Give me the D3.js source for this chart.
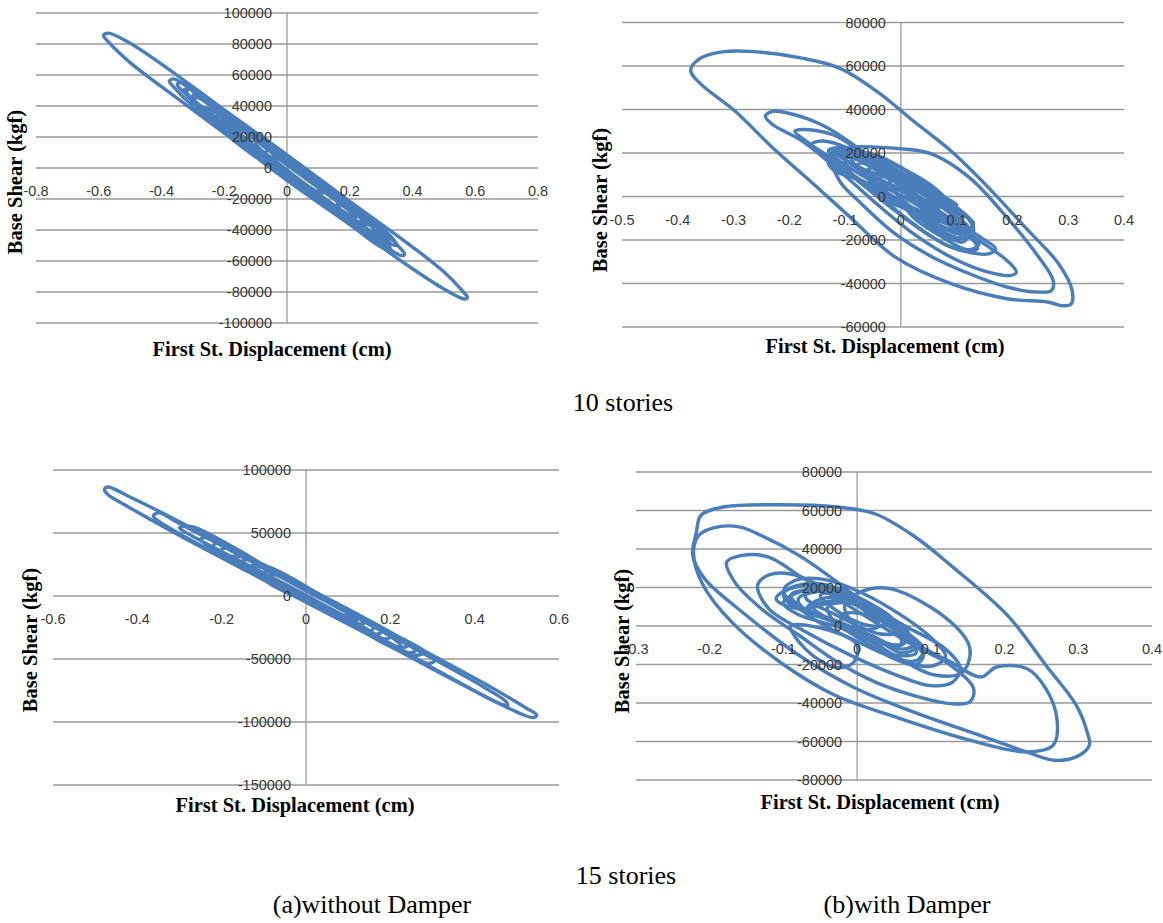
<!DOCTYPE html>
<html>
<head>
<meta charset="utf-8">
<script src="https://cdn.jsdelivr.net/npm/d3@7"></script>
<style>
  body { margin: 0; background: #fff; }
  .tick { font-family: 'Liberation Sans', Arial, sans-serif; font-size: 14.5px; fill: #383838; }
  .atitle { font-family: 'Liberation Serif', 'Times New Roman', serif; font-size: 20.5px; font-weight: bold; fill: #000; }
  .caption { font-family: 'Liberation Serif', 'Times New Roman', serif; font-size: 26px; fill: #000; }
  .grid { stroke: #9a9a9a; stroke-width: 1.3; }
  .loop { fill: none; stroke: #4a7ebb; stroke-width: 3.4; stroke-linejoin: round; }
</style>
</head>
<body>
<div id="chart"></div>
<script>
// ---- tick labels ----
var tenA_xTicks = [-0.8, -0.6, -0.4, -0.2, 0, 0.2, 0.4, 0.6, 0.8];
var tenA_yTicks = [100000, 80000, 60000, 40000, 20000, 0, -20000, -40000, -60000, -80000, -100000];
var tenB_xTicks = [-0.5, -0.4, -0.3, -0.2, -0.1, 0, 0.1, 0.2, 0.3, 0.4];
var tenB_yTicks = [80000, 60000, 40000, 20000, 0, -20000, -40000, -60000];
var fifA_xTicks = [-0.6, -0.4, -0.2, 0, 0.2, 0.4, 0.6];
var fifA_yTicks = [100000, 50000, 0, -50000, -100000, -150000];
var fifB_xTicks = [-0.3, -0.2, -0.1, 0, 0.1, 0.2, 0.3, 0.4];
var fifB_yTicks = [80000, 60000, 40000, 20000, 0, -20000, -40000, -60000, -80000];

// ---- 10 stories, without damper: loops [displacement cm, base shear kgf] ----
var tenA_loop1 = [[-0.585,85500],[-0.57,87000],[-0.5,80500],[-0.4,67000],[-0.2,37500],[0,8500],[0.2,-21500],[0.4,-51000],[0.5,-67000],[0.56,-79500],[0.575,-83500],[0.565,-84500],[0.5,-78000],[0.4,-65000],[0.2,-36500],[0,-8000],[-0.2,22500],[-0.4,52500],[-0.5,68000],[-0.57,81500]];
var tenA_loop2 = [[-0.375,56000],[-0.36,57500],[-0.3,49500],[-0.15,27500],[0,5500],[0.15,-16500],[0.3,-39500],[0.36,-51500],[0.375,-55500],[0.365,-56500],[0.3,-48500],[0.15,-27000],[0,-5000],[-0.15,17000],[-0.3,40000],[-0.36,52000]];
var tenA_loop3 = [[-0.305,42500],[-0.29,45500],[-0.15,25500],[0,4000],[0.15,-18000],[0.3,-41000],[0.32,-46500],[0.3,-46000],[0.15,-25000],[0,-3500],[-0.15,18500],[-0.28,38000]];
var tenA_loop4 = [[-0.25,38000],[-0.2,33000],[0,4500],[0.2,-25500],[0.26,-36500],[0.22,-34000],[0,-4000],[-0.2,25500]];
var tenA_loop5 = [[-0.2,31000],[-0.1,18500],[0.05,-3500],[0.2,-26500],[0.21,-30500],[0.1,-18000],[-0.05,4000],[-0.19,26000]];
var tenA_loop6 = [[-0.16,22000],[-0.14,25000],[0,3500],[0.17,-22000],[0.16,-26500],[0,-2500],[-0.15,18000]];
var tenA_loop7 = [[-0.1,16500],[-0.08,17000],[0.05,-2000],[0.12,-14000],[0.1,-17000],[-0.03,2000]];
var tenA_loop8 = [[-0.3,47000],[-0.27,46000],[-0.1,20500],[0.1,-9000],[0.28,-36000],[0.3,-42000],[0.27,-42000],[0.1,-19000],[-0.1,9500],[-0.28,40000]];
var tenA_loop9 = [[-0.22,35000],[-0.2,35500],[0,6000],[0.2,-23500],[0.24,-33500],[0.22,-34500],[0,-6000],[-0.2,24000]];
var tenA_loop10 = [[-0.12,22000],[-0.1,22500],[0.05,-1500],[0.15,-17000],[0.16,-24000],[0.14,-24000],[0,-4500],[-0.11,14000]];
var tenA_loop11 = [[-0.06,12000],[0,6000],[0.1,-9000],[0.1,-17000],[0,-5000],[-0.07,5000]];
var tenA_loop12 = [[-0.33,50000],[-0.3,51000],[-0.1,18000],[0.1,-12000],[0.3,-41000],[0.33,-49500],[0.3,-47000],[0.1,-17500],[-0.1,12500],[-0.31,45000]];
var tenA_loop13 = [[-0.26,37000],[-0.22,38500],[-0.05,10000],[0.12,-14000],[0.27,-37500],[0.28,-41000],[0.24,-39000],[0.05,-10500],[-0.12,15000],[-0.25,33000]];
var tenA_loop14 = [[-0.35,54000],[-0.33,55000],[-0.15,28500],[0,6500],[0.15,-15500],[0.33,-44000],[0.35,-50000],[0.33,-49000],[0.15,-24000],[0,-1500],[-0.15,21500],[-0.33,49000]];
var tenA_loop15 = [[-0.28,38000],[-0.25,38500],[-0.1,13500],[0.05,-9500],[0.2,-32000],[0.31,-48000],[0.33,-52000],[0.3,-51000],[0.15,-28000],[0,-6500],[-0.15,16000],[-0.27,34000]];
var tenA_loop16 = [[-0.2,27000],[-0.17,28500],[0,2000],[0.2,-28000],[0.22,-32000],[0.19,-31000],[0,-2500],[-0.19,24000]];
var tenA_loop17 = [[-0.32,50000],[-0.3,50500],[-0.2,34500],[-0.05,12000],[0.1,-10000],[0.12,-15000],[0.09,-14500],[-0.05,6500],[-0.2,28000],[-0.31,46000]];
var tenA_loop18 = [[-0.05,7000],[0.05,-4000],[0.2,-27000],[0.3,-43000],[0.32,-48000],[0.29,-46500],[0.2,-32000],[0.05,-10000],[-0.05,3000]];

// ---- 10 stories, with damper ----
var tenB_loop1 = [[-0.377,58000],[-0.36,63500],[-0.32,66500],[-0.27,66700],[-0.177,63600],[-0.11,59000],[-0.043,48300],[0.023,34600],[0.09,20900],[0.157,4100],[0.223,-14200],[0.283,-31000],[0.307,-43200],[0.305,-49500],[0.29,-50200],[0.263,-48500],[0.19,-47000],[0.09,-40100],[-0.01,-27900],[-0.097,-8100],[-0.163,7200],[-0.23,22400],[-0.297,39200],[-0.36,52000]];
var tenB_loop2 = [[-0.123,17800],[-0.11,21700],[0.01,21700],[0.057,19400],[0.123,8700],[0.19,-9600],[0.243,-26400],[0.273,-38600],[0.27,-43200],[0.243,-43900],[0.19,-41600],[0.123,-35500],[0.057,-27900],[-0.01,-17200],[-0.07,-3500],[-0.11,7200]];
var tenB_loop3 = [[-0.243,36900],[-0.23,39200],[-0.203,38400],[-0.143,33100],[-0.077,22400],[-0.01,8700],[0.057,-5000],[0.123,-17200],[0.19,-29400],[0.207,-34800],[0.197,-36300],[0.157,-34800],[0.09,-27900],[0.023,-17200],[-0.043,-3500],[-0.11,11700],[-0.177,25500],[-0.23,33100]];
var tenB_loop4 = [[-0.19,30000],[-0.177,30800],[-0.123,28500],[-0.057,17800],[0.01,4100],[0.077,-8100],[0.143,-18800],[0.17,-24100],[0.157,-26400],[0.09,-23300],[0.023,-12600],[-0.043,1100],[-0.11,14800],[-0.17,25500]];
var tenB_loop5 = [[-0.16,23900],[-0.143,25500],[-0.097,22400],[-0.043,13300],[0.023,-500],[0.083,-12700],[0.13,-20300],[0.137,-24100],[0.11,-24900],[0.057,-18800],[-0.01,-6600],[-0.077,7200],[-0.13,17800]];
var tenB_loop6 = [[-0.125,20000],[-0.09,21500],[-0.03,14000],[0.05,0],[0.11,-12000],[0.125,-17500],[0.1,-19000],[0.03,-9000],[-0.05,4000],[-0.11,14000]];
var tenB_loop7 = [[-0.1,17000],[-0.06,18500],[0,9000],[0.08,-6000],[0.12,-14000],[0.1,-16000],[0.04,-9000],[-0.04,3000],[-0.09,11000]];
var tenB_loop8 = [[-0.13,16000],[-0.1,19500],[-0.05,15000],[0.02,4000],[0.08,-6000],[0.1,-11000],[0.07,-11500],[0,-3000],[-0.07,7000],[-0.12,12000]];
var tenB_loop9 = [[-0.06,12000],[-0.02,13500],[0.04,4000],[0.1,-7000],[0.13,-12000],[0.12,-15000],[0.06,-10000],[0,-3000],[-0.05,5000]];
var tenB_loop10 = [[-0.11,21500],[-0.07,20000],[0,11000],[0.06,2000],[0.1,-4000],[0.08,-5000],[0.02,1000],[-0.05,9000],[-0.1,17000]];
var tenB_loop11 = [[0,0],[0.06,-8000],[0.12,-17000],[0.14,-22000],[0.12,-24500],[0.07,-18000],[0.02,-9000]];
var tenB_loop12 = [[-0.04,8000],[0,9500],[0.05,1000],[0.1,-10000],[0.09,-13000],[0.04,-7000],[-0.02,0]];
var tenB_loop13 = [[-0.12,18000],[-0.08,21000],[0,13000],[0.07,0],[0.12,-10000],[0.13,-16000],[0.1,-17000],[0.03,-7000],[-0.04,4000],[-0.1,11000]];
var tenB_loop14 = [[-0.08,14000],[-0.04,16000],[0.02,7000],[0.08,-4000],[0.11,-10000],[0.09,-12000],[0.03,-4000],[-0.03,5000]];
var tenB_loop15 = [[-0.13,21000],[-0.1,22500],[-0.04,17000],[0.03,6000],[0.09,-3000],[0.06,-5000],[-0.02,3000],[-0.09,13000]];
var tenB_loop16 = [[-0.02,10000],[0.03,8000],[0.09,-3000],[0.13,-13000],[0.12,-19000],[0.09,-18000],[0.04,-9000],[-0.01,2000]];
var tenB_loop17 = [[-0.05,5000],[0,4000],[0.06,-6000],[0.11,-15000],[0.1,-20000],[0.06,-15000],[0.01,-6000],[-0.04,0]];
var tenB_loop18 = [[-0.12,20000],[-0.08,17000],[-0.03,10000],[0.02,3000],[-0.01,7000],[-0.07,13000]];
var tenB_loop19 = [[-0.09,19000],[-0.05,19500],[0.01,12000],[0.06,4000],[0.1,-8000],[0.08,-10000],[0.03,-2000],[-0.03,7000],[-0.08,14000]];
var tenB_loop20 = [[-0.03,3000],[0.02,1000],[0.07,-9000],[0.12,-18000],[0.11,-21000],[0.06,-14000],[0.01,-5000],[-0.03,-1000]];

// ---- 15 stories, without damper ----
var fifA_loop1 = [[-0.478,84500],[-0.47,86500],[-0.42,79000],[-0.3,59000],[-0.15,32500],[0,6500],[0.15,-20000],[0.3,-47000],[0.45,-74500],[0.52,-88500],[0.547,-94500],[0.54,-96500],[0.51,-93500],[0.45,-84000],[0.3,-58000],[0.15,-31000],[0,-5000],[-0.15,21500],[-0.3,48000],[-0.42,70500],[-0.47,80500]];
var fifA_loop2 = [[-0.362,63500],[-0.35,66000],[-0.3,57500],[-0.15,31000],[0,5000],[0.15,-21500],[0.3,-49500],[0.42,-72000],[0.475,-84000],[0.478,-87000],[0.46,-85500],[0.42,-79000],[0.3,-57000],[0.15,-29500],[0,-4000],[-0.15,22500],[-0.3,49500],[-0.35,59500]];
var fifA_loop3 = [[-0.205,35000],[-0.19,38000],[-0.1,22500],[0,4500],[0.15,-22500],[0.27,-44000],[0.305,-51500],[0.29,-53500],[0.25,-47500],[0.15,-29500],[0,-3500],[-0.1,14500],[-0.19,31000]];
var fifA_loop4 = [[-0.17,29500],[-0.155,32000],[-0.05,13500],[0.1,-13500],[0.2,-32000],[0.225,-39500],[0.21,-41000],[0.1,-21000],[-0.05,6500],[-0.16,26000]];
var fifA_loop5 = [[-0.13,24000],[-0.1,22000],[0,5000],[0.1,-13000],[0.16,-25000],[0.15,-28000],[0.05,-11000],[-0.05,6000],[-0.12,19000]];
var fifA_loop6 = [[-0.08,17000],[0,4000],[0.1,-14000],[0.12,-20000],[0.05,-9000],[-0.03,5000],[-0.09,13000]];
var fifA_loop7 = [[-0.25,45000],[-0.22,46000],[-0.1,24000],[0.05,-3000],[0.2,-30000],[0.26,-43000],[0.24,-45000],[0.1,-21000],[-0.05,6000],[-0.2,33000]];
var fifA_loop8 = [[-0.15,28000],[-0.12,27500],[0,6000],[0.12,-15500],[0.18,-28000],[0.16,-30500],[0.03,-8500],[-0.1,14000]];
var fifA_loop9 = [[-0.1,19000],[-0.05,14000],[0.05,-3000],[0.1,-14000],[0.08,-16000],[-0.02,-1000],[-0.09,11000]];
var fifA_loop10 = [[-0.19,30000],[-0.15,31000],[0,6500],[0.15,-20000],[0.2,-32500],[0.18,-34000],[0,-3000],[-0.15,24000]];
var fifA_loop11 = [[-0.3,54000],[-0.27,55000],[-0.1,24500],[0.05,-2000],[0.2,-29000],[0.28,-44500],[0.26,-47000],[0.1,-17500],[-0.05,9500],[-0.28,49500]];
var fifA_loop12 = [[-0.12,23000],[-0.09,23000],[0.05,-2000],[0.22,-33000],[0.24,-40000],[0.21,-39500],[0.05,-10000],[-0.1,17000]];
var fifA_loop13 = [[-0.22,40000],[-0.2,42000],[-0.05,14500],[0.1,-12000],[0.14,-21000],[0.12,-22000],[-0.03,4000],[-0.21,35500]];

// ---- 15 stories, with damper ----
var fifB_loop1 = [[-0.218,48800],[-0.212,57400],[-0.182,61800],[-0.104,63000],[-0.027,61800],[0.024,58300],[0.076,47000],[0.127,31500],[0.204,5500],[0.256,-20400],[0.297,-41000],[0.312,-55000],[0.315,-62000],[0.297,-68000],[0.266,-69700],[0.23,-65400],[0.153,-55000],[0.076,-44600],[-0.0015,-32500],[-0.079,-15200],[-0.156,7300],[-0.207,24600],[-0.223,36700]];
var fifB_loop2 = [[-0.215,47000],[-0.195,51000],[-0.16,51500],[-0.13,47000],[-0.079,36700],[-0.027,22800],[0.024,7300],[0.076,-8300],[0.127,-18700],[0.168,-26500],[0.189,-21300],[0.23,-22100],[0.256,-32500],[0.271,-48100],[0.266,-61900],[0.23,-65400],[0.15,-59000],[0.05,-47000],[-0.03,-36000],[-0.1,-20000],[-0.17,2000],[-0.21,22000],[-0.222,38000]];
var fifB_loop3 = [[-0.177,33200],[-0.156,36700],[-0.12,35800],[-0.079,26300],[-0.027,14200],[0.024,2000],[0.076,-10000],[0.127,-20400],[0.158,-32500],[0.153,-39400],[0.127,-40300],[0.076,-36000],[0.024,-29000],[-0.027,-18700],[-0.079,-4800],[-0.13,9000],[-0.166,22800]];
var fifB_loop4 = [[-0.135,21000],[-0.12,26500],[-0.09,27000],[-0.05,21000],[0.01,11000],[0.07,-1000],[0.12,-12000],[0.14,-22000],[0.13,-29000],[0.1,-31000],[0.05,-25000],[-0.01,-15000],[-0.07,-3000],[-0.12,9000]];
var fifB_loop5 = [[-0.1,18000],[-0.085,23500],[-0.05,24500],[-0.01,20000],[0.05,8000],[0.1,-6000],[0.12,-16000],[0.1,-21000],[0.06,-18000],[0,-8000],[-0.06,4000]];
var fifB_loop6 = [[0.004,17600],[0.045,19400],[0.127,2100],[0.153,-11800],[0.143,-23900],[0.107,-25600],[0.05,-15200],[0,-1400],[-0.017,10700]];
var fifB_loop7 = [[-0.09,0],[-0.07,-12000],[-0.03,-21500],[-0.005,-19000],[0,-10000],[-0.04,-2000]];
var fifB_loop8 = [[-0.09,16000],[-0.06,19000],[-0.02,14000],[0.03,4000],[0.07,-7000],[0.08,-14000],[0.05,-15000],[0.01,-6000],[-0.04,4000],[-0.08,11000]];
var fifB_loop9 = [[-0.07,8000],[-0.05,14000],[-0.01,13000],[0.04,1000],[0.08,-9000],[0.06,-12000],[0.02,-5000],[-0.03,3000]];
var fifB_loop10 = [[-0.1,12000],[-0.08,17500],[-0.04,19000],[0,12000],[0.05,-2000],[0.06,-9000],[0.03,-9000],[-0.03,0],[-0.08,6000]];
var fifB_loop11 = [[-0.04,10000],[-0.01,12000],[0.04,3000],[0.09,-12000],[0.08,-18000],[0.05,-16000],[0.02,-7000],[-0.03,2000]];
var fifB_loop12 = [[-0.06,20000],[-0.02,19000],[0.02,10000],[0.06,-3000],[0.03,-4000],[-0.03,6000],[-0.07,15000]];
var fifB_loop13 = [[-0.08,14000],[-0.05,18000],[0,15000],[0.04,6000],[0.07,-4000],[0.06,-10000],[0.02,-6000],[-0.03,2000],[-0.07,8000]];
var fifB_loop14 = [[-0.06,10000],[-0.03,13000],[0.02,8000],[0.06,-2000],[0.08,-11000],[0.06,-14000],[0.03,-8000],[-0.02,0]];
var fifB_loop15 = [[-0.1,17000],[-0.07,21000],[-0.03,17000],[0.01,8000],[0.03,0],[0,-2000],[-0.05,5000],[-0.09,11000]];
var fifB_loop16 = [[-0.02,6000],[0.02,5000],[0.06,-5000],[0.09,-15000],[0.08,-20000],[0.05,-17000],[0.01,-8000],[-0.02,0]];
var fifB_loop17 = [[-0.11,14000],[-0.09,20000],[-0.05,22000],[-0.02,17000],[-0.04,12000],[-0.08,9000]];
var fifB_loop18 = [[-0.05,16000],[-0.02,16500],[0.03,9000],[0.05,2000],[0.02,0],[-0.02,6000]];

var W = 1163, H = 923;

var svg = d3.select('#chart').append('svg')
    .attr('width', W)
    .attr('height', H)
    .style('background', '#fff');

// panel layout (pixel ranges of each plot area)
var panels = [
    { xt: tenA_xTicks, yt: tenA_yTicks, xr: [36, 538], yr: [13, 323],
      loops: [tenA_loop1, tenA_loop2, tenA_loop3, tenA_loop4, tenA_loop5, tenA_loop6, tenA_loop7, tenA_loop8, tenA_loop9,
              tenA_loop10, tenA_loop11, tenA_loop12, tenA_loop13, tenA_loop14, tenA_loop15, tenA_loop16, tenA_loop17, tenA_loop18],
      xTitle: [272, 356], yTitle: [15, 182] },
    { xt: tenB_xTicks, yt: tenB_yTicks, xr: [622, 1124], yr: [22.5, 327],
      loops: [tenB_loop1, tenB_loop2, tenB_loop3, tenB_loop4, tenB_loop5, tenB_loop6, tenB_loop7, tenB_loop8, tenB_loop9, tenB_loop10,
              tenB_loop11, tenB_loop12, tenB_loop13, tenB_loop14, tenB_loop15, tenB_loop16, tenB_loop17, tenB_loop18, tenB_loop19, tenB_loop20],
      xTitle: [885, 353], yTitle: [600, 200] },
    { xt: fifA_xTicks, yt: fifA_yTicks, xr: [53, 559], yr: [470, 785],
      loops: [fifA_loop1, fifA_loop2, fifA_loop3, fifA_loop4, fifA_loop5, fifA_loop6, fifA_loop7,
              fifA_loop8, fifA_loop9, fifA_loop10, fifA_loop11, fifA_loop12, fifA_loop13],
      xTitle: [295, 812], yTitle: [30, 640] },
    { xt: fifB_xTicks, yt: fifB_yTicks, xr: [636, 1152], yr: [472, 780],
      loops: [fifB_loop1, fifB_loop2, fifB_loop3, fifB_loop4, fifB_loop5, fifB_loop6, fifB_loop7, fifB_loop8, fifB_loop9,
              fifB_loop10, fifB_loop11, fifB_loop12, fifB_loop13, fifB_loop14, fifB_loop15, fifB_loop16, fifB_loop17, fifB_loop18],
      xTitle: [880, 809], yTitle: [622, 641] }
];

panels.forEach(function(p) {
    var x = d3.scaleLinear()
        .domain([p.xt[0], p.xt[p.xt.length - 1]])
        .range(p.xr);
    var y = d3.scaleLinear()
        .domain([p.yt[0], p.yt[p.yt.length - 1]])
        .range(p.yr);

    var g = svg.append('g');
    var x0 = x(0), y0 = y(0);

    // horizontal gridlines
    g.selectAll('.hgrid')
        .data(p.yt)
        .enter().append('line')
        .attr('class', 'grid')
        .attr('x1', p.xr[0]).attr('x2', p.xr[1])
        .attr('y1', d => y(d)).attr('y2', d => y(d));

    // vertical axis at x = 0
    g.append('line')
        .attr('class', 'grid')
        .attr('x1', x0).attr('x2', x0)
        .attr('y1', p.yr[0]).attr('y2', p.yr[1]);

    // loops
    var line = d3.line()
        .x(d => x(d[0]))
        .y(d => y(d[1]))
        .curve(d3.curveCatmullRomClosed.alpha(0.5));

    g.selectAll('.loop')
        .data(p.loops)
        .enter().append('path')
        .attr('class', 'loop')
        .attr('d', line);

    // y tick labels, next to the vertical axis
    g.selectAll('.ylab')
        .data(p.yt)
        .enter().append('text')
        .attr('class', 'tick')
        .attr('x', x0 - 15)
        .attr('y', d => y(d))
        .attr('dy', '0.36em')
        .attr('text-anchor', 'end')
        .text(d => d);

    // x tick labels below the zero line
    g.selectAll('.xlab')
        .data(p.xt)
        .enter().append('text')
        .attr('class', 'tick')
        .attr('x', d => x(d))
        .attr('y', y0 + 28)
        .attr('text-anchor', 'middle')
        .text(d => d);

    g.append('text')
        .attr('class', 'atitle')
        .attr('x', p.xTitle[0])
        .attr('y', p.xTitle[1])
        .attr('text-anchor', 'middle')
        .text('First St. Displacement (cm)');

    g.append('text')
        .attr('class', 'atitle')
        .attr('transform', 'translate(' + (p.yTitle[0] + 7) + ',' + p.yTitle[1] + ') rotate(-90)')
        .attr('text-anchor', 'middle')
        .text('Base Shear (kgf)');
});

// captions
svg.append('text').attr('class', 'caption')
    .attr('x', 623).attr('y', 411).attr('text-anchor', 'middle')
    .text('10 stories');
svg.append('text').attr('class', 'caption')
    .attr('x', 626).attr('y', 884).attr('text-anchor', 'middle')
    .text('15 stories');
svg.append('text').attr('class', 'caption')
    .attr('x', 372).attr('y', 913).attr('text-anchor', 'middle')
    .text('(a)without Damper');
svg.append('text').attr('class', 'caption')
    .attr('x', 907).attr('y', 913).attr('text-anchor', 'middle')
    .text('(b)with Damper');
</script>
</body>
</html>
